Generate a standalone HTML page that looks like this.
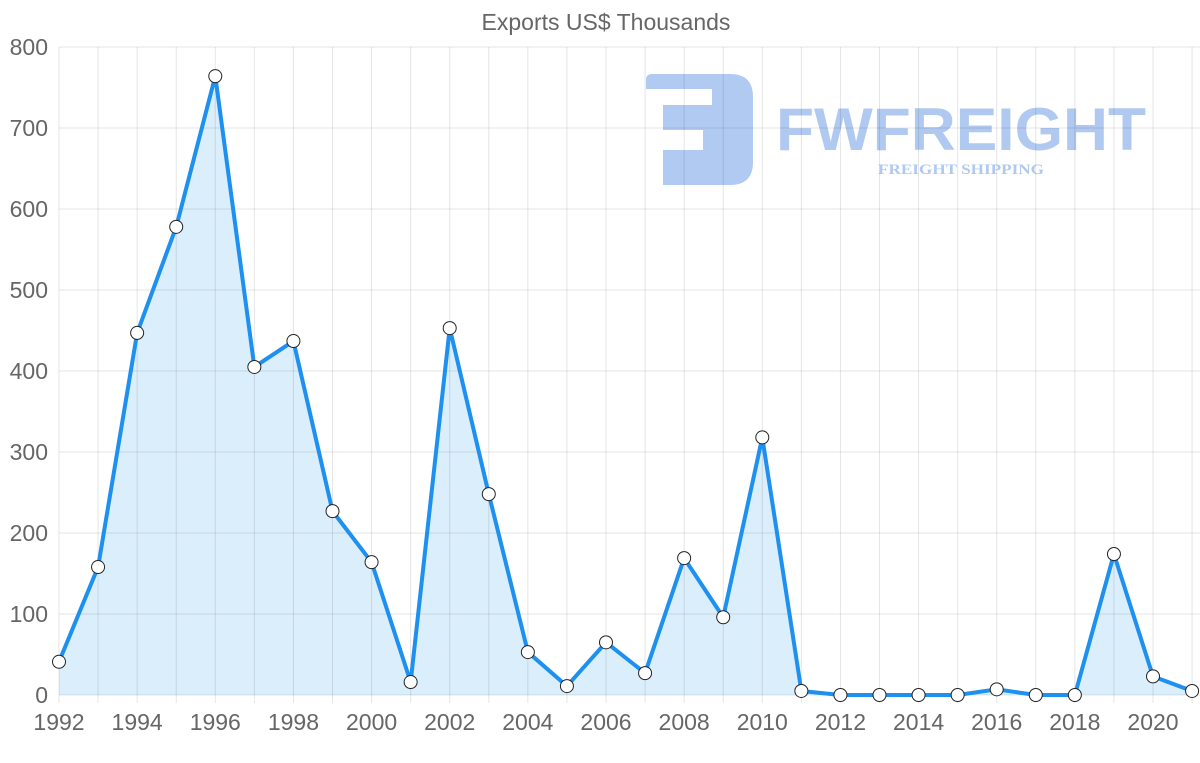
<!DOCTYPE html>
<html><head><meta charset="utf-8"><style>
html,body{margin:0;padding:0;background:#fff;}
svg{display:block;font-family:"Liberation Sans",sans-serif;}
</style></head><body>
<svg id="c" width="1200" height="763" viewBox="0 0 1200 763" xmlns="http://www.w3.org/2000/svg">
<text x="606" y="30" text-anchor="middle" font-size="23" fill="#666">Exports US$ Thousands</text>
<g opacity="0.9">
<path d="M652 74 H730 Q753 74 753 97 V162 Q753 185 730 185 H663 V150 H703 V130 H663 V105 H712 V89 H646 V80 Q646 74 652 74 Z" fill="#a8c4f0"/>
<text x="776" y="150" font-size="60" font-weight="bold" fill="#a8c4f0" textLength="370" lengthAdjust="spacingAndGlyphs">FWFREIGHT</text>
<text x="961" y="174" text-anchor="middle" font-family="Liberation Serif,serif" font-weight="bold" font-size="15" fill="#a8c4f0" textLength="166" lengthAdjust="spacingAndGlyphs">FREIGHT SHIPPING</text>
</g>
<g id="data"></g>
<g id="grid"></g>
<g id="pts"></g>
</svg>
<script>
const g=document.getElementById('grid'),d=document.getElementById('data'),pg=document.getElementById('pts');
const x0=59,dx=(1153-59)/28,y0=695,sy=0.81;
let h='';
for(let i=0;i<=8;i++){const y=y0-i*100*sy;h+=`<line x1="59" x2="1200" y1="${y}" y2="${y}" stroke="rgba(0,0,0,0.1)"/>`;
h+=`<text x="48" y="${y+8}" text-anchor="end" font-size="23" fill="#666">${i*100}</text>`;}
for(let i=0;i<=29;i++){const x=x0+i*dx;h+=`<line x1="${x}" x2="${x}" y1="47" y2="703" stroke="rgba(0,0,0,0.1)"/>`;
if(i%2==0)h+=`<text x="${x}" y="730" text-anchor="middle" font-size="23" fill="#666">${1992+i}</text>`;}
g.innerHTML=h;
const v=[41,158,447,578,764,405,437,227,164,16,453,248,53,11,65,27,169,96,318,5,0,0,0,0,7,0,0,174,23,5];
const pts=v.map((a,i)=>[x0+i*dx,y0-a*sy]);
let line=pts.map(p=>p.join(',')).join(' ');
d.innerHTML=`<polygon points="${x0},${y0} ${line} ${pts[pts.length-1][0]},${y0}" fill="rgba(54,162,235,0.18)"/>`;
let s=`<polyline points="${line}" fill="none" stroke="#1e90f0" stroke-width="4" stroke-linejoin="round"/>`;
pts.forEach(p=>s+=`<circle cx="${p[0]}" cy="${p[1]}" r="6.5" fill="#fff" stroke="#222" stroke-width="1"/>`);
pg.innerHTML=s;
</script>
</body></html>
